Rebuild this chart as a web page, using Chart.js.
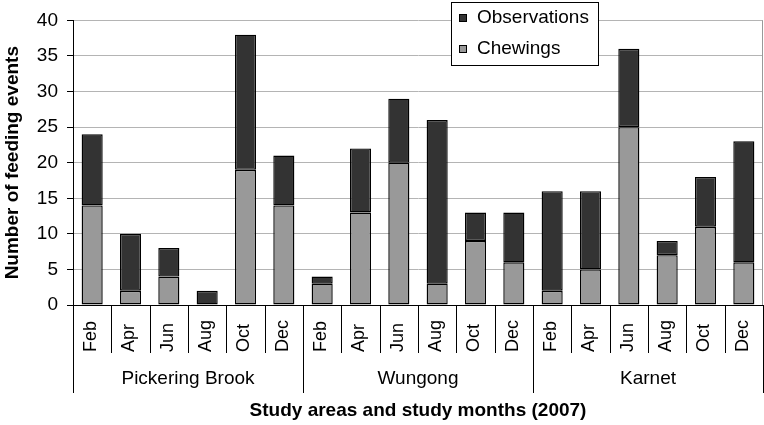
<!DOCTYPE html>
<html>
<head>
<meta charset="utf-8">
<script src="https://cdn.jsdelivr.net/npm/chart.js@4"></script>
<style>
  html, body { margin: 0; padding: 0; background: #fff; }
  #wrap { width: 764px; height: 425px; }
</style>
</head>
<body>
<div id="wrap"><canvas id="c" width="764" height="425"></canvas></div>
<script>
// study areas and months (2007)
const sites = ["Pickering Brook", "Wungong", "Karnet"];
const months = ["Feb", "Apr", "Jun", "Aug", "Oct", "Dec"];

// feeding events per month, site by site
const chewings     = [14, 2, 4, 0, 19, 14,   3, 13, 20, 3, 9, 6,   2, 5, 25, 7, 11, 6];
const observations = [10, 8, 4, 2, 19, 7,    1, 9, 9, 23, 4, 7,    14, 11, 11, 2, 7, 17];

const yTicks = { min: 0, max: 40, step: 5 };

const FONT = "'Liberation Sans', Arial, sans-serif";
const labels = sites.flatMap(() => months);

// month labels, separators, site names, right frame and legend
const categoryAxis = {
  id: "categoryAxis",
  afterDraw(chart) {
    const { ctx, chartArea } = chart;
    const x = chart.scales.x;
    const n = chart.data.labels.length;
    const w = (chartArea.right - chartArea.left) / n;
    const axisY = chartArea.bottom;

    ctx.save();
    // right frame line
    ctx.strokeStyle = "#999";
    ctx.lineWidth = 1;
    ctx.beginPath();
    ctx.moveTo(chartArea.right - 0.5, chartArea.top);
    ctx.lineTo(chartArea.right - 0.5, axisY);
    ctx.stroke();

    // separators
    ctx.strokeStyle = "#000";
    for (let i = 0; i <= n; i++) {
      const bx = Math.round(x.getPixelForValue(i) - w / 2) + 0.5;
      const isGroup = i % months.length === 0;
      ctx.beginPath();
      ctx.moveTo(bx, axisY);
      ctx.lineTo(bx, isGroup ? axisY + 88 : axisY + 48);
      ctx.stroke();
    }

    // month labels, rotated
    ctx.fillStyle = "#000";
    ctx.font = "18px " + FONT;
    ctx.textAlign = "left";
    ctx.textBaseline = "middle";
    chart.data.labels.forEach((lab, i) => {
      const cx = x.getPixelForValue(i) - 1;
      ctx.save();
      ctx.translate(cx, axisY + 47);
      ctx.rotate(-Math.PI / 2);
      ctx.fillText(lab, 0, 0);
      ctx.restore();
    });

    // site names
    ctx.font = "19px " + FONT;
    ctx.textAlign = "center";
    sites.forEach((s, g) => {
      const a = x.getPixelForValue(g * months.length);
      const b = x.getPixelForValue((g + 1) * months.length - 1);
      ctx.fillText(s, (a + b) / 2, axisY + 74);
    });

    // legend box
    const lx = 451, ly = 2, lw = 147, lh = 63;
    ctx.fillStyle = "#fff";
    ctx.fillRect(lx, ly, lw, lh);
    ctx.strokeStyle = "#000";
    ctx.strokeRect(lx + 0.5, ly + 0.5, lw, lh);
    const order = [1, 0];
    ctx.textAlign = "left";
    ctx.font = "19px " + FONT;
    order.forEach((di, k) => {
      const ds = chart.data.datasets[di];
      const ty = ly + 16 + k * 31;
      ctx.fillStyle = ds.backgroundColor;
      ctx.fillRect(459, ty - 4, 8, 8);
      ctx.strokeStyle = "#000";
      ctx.strokeRect(459.5, ty - 3.5, 7, 7);
      ctx.fillStyle = "#000";
      ctx.fillText(ds.label, 477, ty);
    });
    ctx.restore();
  }
};

new Chart(document.getElementById("c"), {
  type: "bar",
  data: {
    labels: labels,
    datasets: [
      {
        label: "Chewings",
        data: chewings,
        backgroundColor: "#999999",
        borderColor: "#000",
        borderWidth: 1.4,
        borderSkipped: false
      },
      {
        label: "Observations",
        data: observations,
        backgroundColor: "#333333",
        borderColor: "#000",
        borderWidth: 1.4,
        borderSkipped: false
      }
    ]
  },
  options: {
    responsive: false,
    animation: false,
    layout: { padding: { top: 9, right: 1, left: 0, bottom: 0 } },
    datasets: { bar: { categoryPercentage: 1, barPercentage: 0.55 } },
    plugins: {
      legend: { display: false },
      tooltip: { enabled: false }
    },
    scales: {
      x: {
        stacked: true,
        offset: true,
        grid: { display: false },
        border: { display: true, color: "#000", width: 1 },
        ticks: { display: false },
        title: {
          display: true,
          text: "Study areas and study months (2007)",
          color: "#000",
          font: { family: FONT, size: 19, weight: "bold" },
          padding: { top: 0, bottom: 3 }
        },
        afterFit(scale) { scale.height = 120; }
      },
      y: {
        stacked: true,
        min: yTicks.min,
        max: yTicks.max,
        ticks: {
          stepSize: yTicks.step,
          color: "#000",
          padding: 9,
          font: { family: FONT, size: 19 }
        },
        grid: { color: "#b4b4b4", tickColor: "#000", tickLength: 6 },
        border: { display: true, color: "#000", width: 1 },
        title: {
          display: true,
          text: "Number of feeding events",
          color: "#000",
          font: { family: FONT, size: 19, weight: "bold" },
          padding: { top: 1, bottom: 0 }
        },
        afterFit(scale) { scale.width = 73; }
      }
    }
  },
  plugins: [categoryAxis]
});
</script>
</body>
</html>
